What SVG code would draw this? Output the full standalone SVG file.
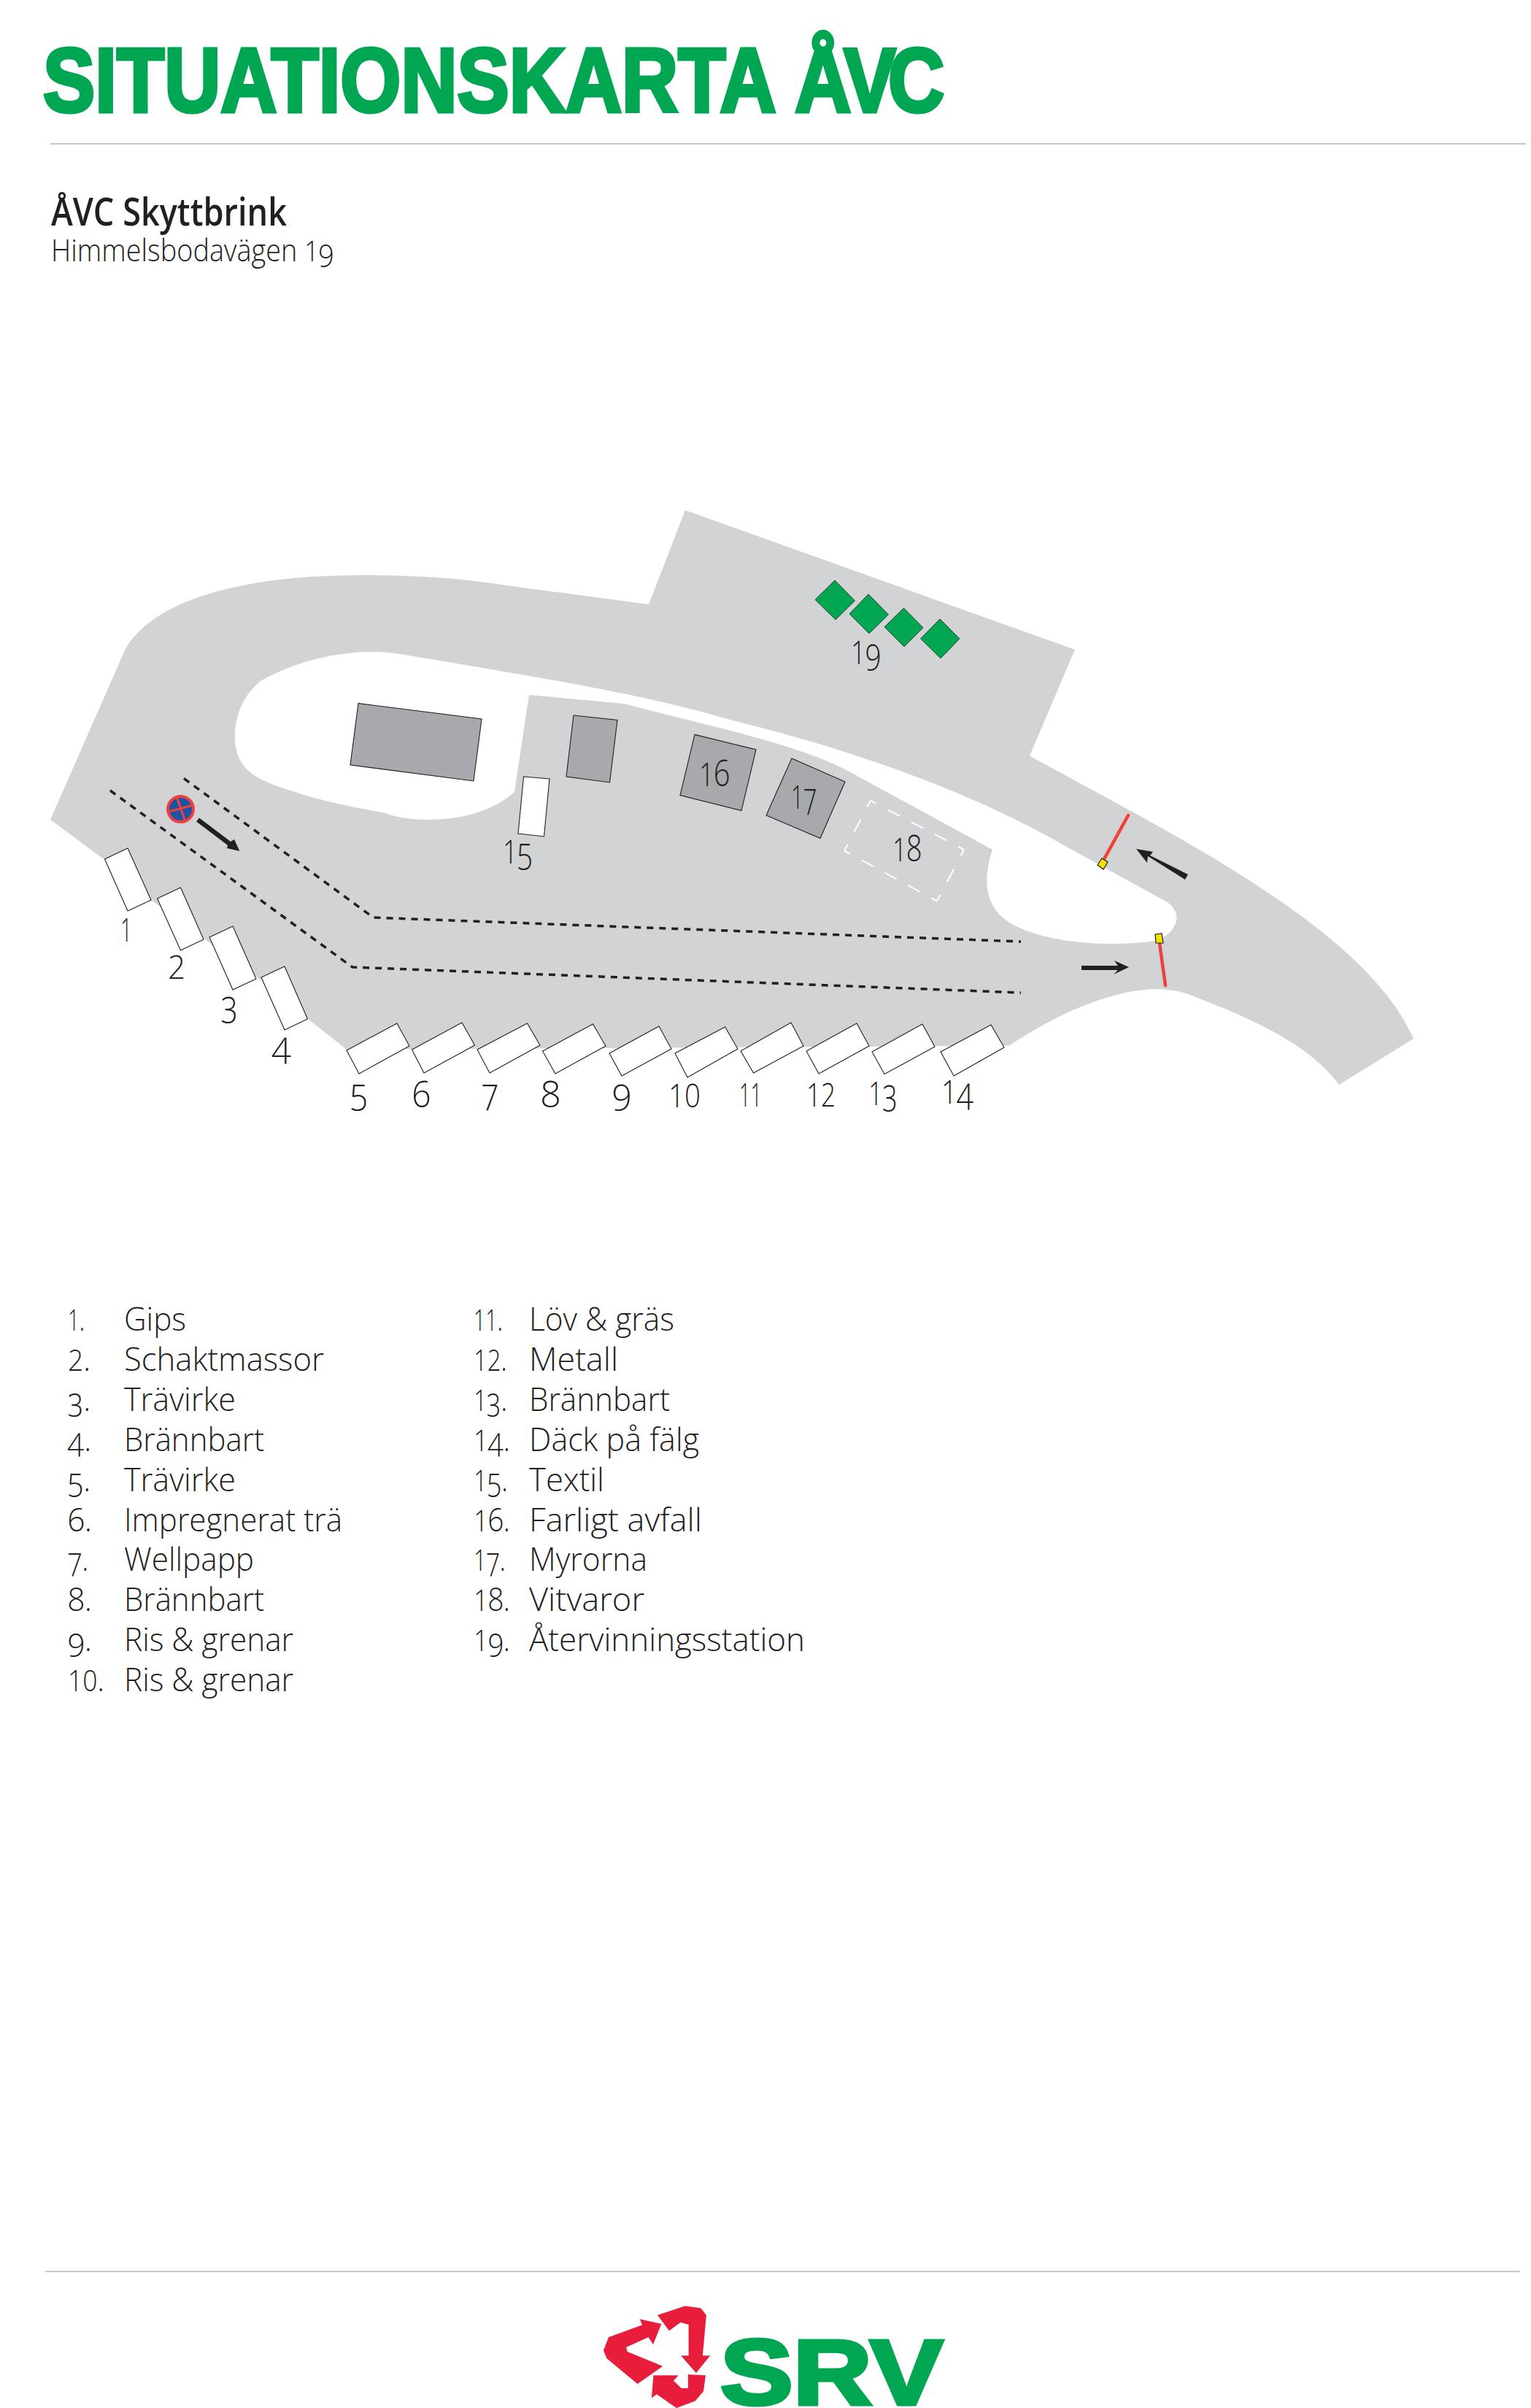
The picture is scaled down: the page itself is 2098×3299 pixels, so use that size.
<svg xmlns="http://www.w3.org/2000/svg" width="2098" height="3299" viewBox="0 0 2098 3299">
<style>
text{font-family:"Open Sans","Liberation Sans",sans-serif;fill:#231f20;font-weight:300;font-variant-numeric:oldstyle-nums;}
.l{font-variant-numeric:lining-nums;font-size:.9em;}
.title{font-family:"Liberation Sans",sans-serif;font-weight:700;font-size:125px;fill:#00a651;stroke:#00a651;stroke-width:5px;}
.tight{letter-spacing:-12px;}
.sub{font-weight:600;font-size:52px;}
.addr{font-size:42px;}
.li{font-size:45px;}
.n{font-size:50px;}
.rule{stroke:#c6c8ca;stroke-width:2.2;fill:none;}
.bin{fill:#fff;stroke:#231f20;stroke-width:1.1;}
.bld{fill:#a7a9ac;stroke:#231f20;stroke-width:1.1;}
.st{fill:#00a651;stroke:#231f20;stroke-width:.8;}
.dash{fill:none;stroke:#231f20;stroke-width:3.5;stroke-dasharray:9 8;}
.wd{stroke:#fff;stroke-width:2;stroke-dasharray:1 1;stroke-dashoffset:.5;}
.red{fill:none;stroke:#ef4136;stroke-width:4.5;stroke-linecap:round;}
.gate{fill:#f2e100;stroke:#231f20;stroke-width:1.2;}
.arrow{fill:#231f20;}
.logo{fill:#e81c3b;}
</style>
<rect width="2098" height="3299" fill="#fff"/>
<g id="header">
<text class="title" x="59" y="153" textLength="1225" lengthAdjust="spacingAndGlyphs">SITUATIONSKARTA <tspan class="tight">ÅVC</tspan></text>
<line class="rule" x1="69" y1="197" x2="2091" y2="197"/>
<text class="sub" x="70" y="309" textLength="323" lengthAdjust="spacingAndGlyphs">ÅVC Skyttbrink</text>
<text class="addr" x="70" y="358" textLength="387" lengthAdjust="spacingAndGlyphs">Himmelsbodavägen <tspan class="l">1</tspan>9</text>
</g>
<g id="site">
<path fill="#d1d3d4" fill-rule="evenodd" d="M939,699 L1473,890 L1411,1035.5 C1600,1140 1870,1270 1937,1423 L1835,1486 C1790,1425 1700,1390 1628,1362 C1600,1352 1570,1354 1542,1360 C1490,1372 1440,1395 1383,1432.6 L475,1438 L421,1395 L357,1342 L281,1287 L207,1233 L143.5,1178 L69,1123 L167,900 C190,840 290,788 497,788 C590,788 650,795 701,803 L889,828 Z M725,952 L855,964 C960,992 1100,1020 1169,1060 L1360,1164 C1345,1210 1350,1250 1395,1270 C1440,1292 1520,1298 1583,1289 C1612,1280 1625,1250 1596,1234 L1456,1157 C1340,1090 1180,1030 1000,986 C880,950 720,925 548,896 C500,888 425,895 357,933 C330,955 322,985 322,1009 C322,1050 345,1065 383,1078 C440,1098 480,1105 529,1114 C550,1125 650,1135 705,1085 Z"/>
</g>
<g id="drive-lines">
<polyline class="dash" points="252,1066.5 511.5,1257 1399,1290"/>
<polyline class="dash" points="151,1083 483,1325 1399,1360"/>
</g>
<g id="buildings">
<polygon class="bld" points="491,963.6 660,985 649,1070 480,1048"/>
<polygon class="bld" points="786,980 846,986.5 835.5,1072 776,1064"/>
</g>
<g id="no-parking">
<circle cx="247.5" cy="1108.6" r="17.5" fill="#1c54a4" stroke="#ef3e42" stroke-width="4"/>
<line x1="242" y1="1091" x2="254" y2="1126" stroke="#ef3e42" stroke-width="3"/>
<line x1="231" y1="1112" x2="265" y2="1103" stroke="#ef3e42" stroke-width="3"/>
</g>
<g id="arrows">
<path class="arrow" d="M273,1120.5 L316,1153 L321,1150 L328.4,1166 L311,1162 L312,1158 L269,1125.6 Z"/>
<path class="arrow" d="M1628,1198 L1624,1205 L1573,1173 L1572,1182 L1557,1163 L1580,1167 L1576,1172 Z"/>
<path class="arrow" d="M1482,1323 L1532,1323 L1527,1316 L1547,1325 L1526,1335 L1532,1329 L1482,1329 Z"/>
</g>
<g id="gate-1">
<line class="red" x1="1546" y1="1117" x2="1513" y2="1177"/>
<polygon class="gate" points="1510,1176 1518,1181 1512,1191 1504,1185"/>
</g>
<g id="gate-2">
<line class="red" x1="1589" y1="1292" x2="1597" y2="1350"/>
<polygon class="gate" points="1583,1280 1592,1279 1594,1292 1584,1292"/>
</g>
<g id="n1"><polygon class="bin" points="143.5,1177 175,1162 207,1233 175,1248"/><text class="n" x="165" y="1290" textLength="16" lengthAdjust="spacingAndGlyphs"><tspan class="l">1</tspan></text></g>
<g id="n2"><polygon class="bin" points="215.5,1231 247.5,1216 279,1287 247.5,1302"/><text class="n" x="230" y="1341" textLength="24" lengthAdjust="spacingAndGlyphs"><tspan class="l">2</tspan></text></g>
<g id="n3"><polygon class="bin" points="287,1284 319,1269 351,1341 319,1356"/><text class="n" x="303" y="1393" textLength="23" lengthAdjust="spacingAndGlyphs">3</text></g>
<g id="n4"><polygon class="bin" points="358,1339 390,1324 421.5,1396 390,1411"/><text class="n" x="373" y="1449" textLength="26" lengthAdjust="spacingAndGlyphs">4</text></g>
<g id="n5"><polygon class="bin" points="475,1439 544,1402 561,1433 492,1471"/><text class="n" x="480" y="1513" textLength="24" lengthAdjust="spacingAndGlyphs">5</text></g>
<g id="n6"><polygon class="bin" points="564.5,1438 633,1401 650.5,1432 581,1470"/><text class="n" x="565" y="1517" textLength="25" lengthAdjust="spacingAndGlyphs">6</text></g>
<g id="n7"><polygon class="bin" points="654,1438 722.5,1402 740,1432 671,1470"/><text class="n" x="660" y="1513" textLength="23" lengthAdjust="spacingAndGlyphs">7</text></g>
<g id="n8"><polygon class="bin" points="743.6,1440 812.5,1403 830,1433 761,1471"/><text class="n" x="741" y="1517" textLength="27" lengthAdjust="spacingAndGlyphs">8</text></g>
<g id="n9"><polygon class="bin" points="835,1443 903,1406 920,1437 852,1474"/><text class="n" x="839" y="1513" textLength="26" lengthAdjust="spacingAndGlyphs">9</text></g>
<g id="n10"><polygon class="bin" points="925,1443 993.6,1407 1011,1437 942,1476"/><text class="n" x="916" y="1517" textLength="44" lengthAdjust="spacingAndGlyphs"><tspan class="l">10</tspan></text></g>
<g id="n11"><polygon class="bin" points="1015,1440 1084,1401 1101,1433 1032.5,1470"/><text class="n" x="1013" y="1516" textLength="31" lengthAdjust="spacingAndGlyphs"><tspan class="l">11</tspan></text></g>
<g id="n12"><polygon class="bin" points="1105,1440 1174,1402 1191,1433 1122,1471"/><text class="n" x="1105" y="1516" textLength="40" lengthAdjust="spacingAndGlyphs"><tspan class="l">12</tspan></text></g>
<g id="n13"><polygon class="bin" points="1195,1441 1264,1403 1281,1434 1212,1471.5"/><text class="n" x="1190" y="1514" textLength="40" lengthAdjust="spacingAndGlyphs"><tspan class="l">1</tspan>3</text></g>
<g id="n14"><polygon class="bin" points="1289,1441 1358,1404 1376,1435 1307,1474"/><text class="n" x="1290" y="1512" textLength="44" lengthAdjust="spacingAndGlyphs"><tspan class="l">1</tspan>4</text></g>
<g id="n15"><polygon class="bin" points="717.5,1064 753,1067 745.5,1146 710,1142"/><text class="n" x="689" y="1183" textLength="41" lengthAdjust="spacingAndGlyphs"><tspan class="l">1</tspan>5</text></g>
<g id="n16"><polygon class="bld" points="952,1006.4 1036,1027 1016,1110.6 932,1089.5"/><text class="n" x="958" y="1077" textLength="42" lengthAdjust="spacingAndGlyphs"><tspan class="l">1</tspan>6</text></g>
<g id="n17"><polygon class="bld" points="1085,1039 1158,1071 1124,1148.5 1050,1117"/><text class="n" x="1084" y="1108" textLength="35" lengthAdjust="spacingAndGlyphs"><tspan class="l">1</tspan>7</text></g>
<g id="n18">
<line class="wd" pathLength="8" x1="1193" y1="1097" x2="1321" y2="1164"/>
<line class="wd" pathLength="4" x1="1321" y1="1164" x2="1284" y2="1234.5"/>
<line class="wd" pathLength="8" x1="1284" y1="1234.5" x2="1157" y2="1165.5"/>
<line class="wd" pathLength="4" x1="1157" y1="1165.5" x2="1193" y2="1097"/>
<text class="n" x="1223" y="1180" textLength="40" lengthAdjust="spacingAndGlyphs"><tspan class="l">1</tspan>8</text></g>
<g id="n19">
<polygon class="st" points="1144,795 1171.5,823 1145,849 1117,821.5"/>
<polygon class="st" points="1190,814 1217.5,842 1191,868 1164,841"/>
<polygon class="st" points="1238.5,833 1265,860 1239,886 1212,859"/>
<polygon class="st" points="1288,848 1315,875 1289,902 1261.5,875"/>
<text class="n" x="1166" y="910" textLength="41" lengthAdjust="spacingAndGlyphs"><tspan class="l">1</tspan>9</text></g>
<g id="legend">
<text class="li" x="93" y="1823" textLength="23" lengthAdjust="spacingAndGlyphs"><tspan class="l">1</tspan>.</text><text class="li" x="170" y="1823" textLength="85" lengthAdjust="spacingAndGlyphs">Gips</text>
<text class="li" x="93" y="1878" textLength="31" lengthAdjust="spacingAndGlyphs"><tspan class="l">2</tspan>.</text><text class="li" x="170" y="1878" textLength="274" lengthAdjust="spacingAndGlyphs">Schaktmassor</text>
<text class="li" x="93" y="1933" textLength="31" lengthAdjust="spacingAndGlyphs">3.</text><text class="li" x="170" y="1933" textLength="153" lengthAdjust="spacingAndGlyphs">Trävirke</text>
<text class="li" x="93" y="1988" textLength="32" lengthAdjust="spacingAndGlyphs">4.</text><text class="li" x="170" y="1988" textLength="192" lengthAdjust="spacingAndGlyphs">Brännbart</text>
<text class="li" x="93" y="2043" textLength="31" lengthAdjust="spacingAndGlyphs">5.</text><text class="li" x="170" y="2043" textLength="153" lengthAdjust="spacingAndGlyphs">Trävirke</text>
<text class="li" x="93" y="2098" textLength="33" lengthAdjust="spacingAndGlyphs">6.</text><text class="li" x="170" y="2098" textLength="299" lengthAdjust="spacingAndGlyphs">Impregnerat trä</text>
<text class="li" x="93" y="2152" textLength="28" lengthAdjust="spacingAndGlyphs">7.</text><text class="li" x="170" y="2152" textLength="178" lengthAdjust="spacingAndGlyphs">Wellpapp</text>
<text class="li" x="93" y="2207" textLength="33" lengthAdjust="spacingAndGlyphs">8.</text><text class="li" x="170" y="2207" textLength="192" lengthAdjust="spacingAndGlyphs">Brännbart</text>
<text class="li" x="93" y="2262" textLength="33" lengthAdjust="spacingAndGlyphs">9.</text><text class="li" x="170" y="2262" textLength="232" lengthAdjust="spacingAndGlyphs">Ris &amp; grenar</text>
<text class="li" x="93" y="2317" textLength="50" lengthAdjust="spacingAndGlyphs"><tspan class="l">10</tspan>.</text><text class="li" x="170" y="2317" textLength="232" lengthAdjust="spacingAndGlyphs">Ris &amp; grenar</text>
<text class="li" x="649" y="1823" textLength="40" lengthAdjust="spacingAndGlyphs"><tspan class="l">11</tspan>.</text><text class="li" x="725" y="1823" textLength="199" lengthAdjust="spacingAndGlyphs">Löv &amp; gräs</text>
<text class="li" x="649" y="1878" textLength="46" lengthAdjust="spacingAndGlyphs"><tspan class="l">12</tspan>.</text><text class="li" x="725" y="1878" textLength="122" lengthAdjust="spacingAndGlyphs">Metall</text>
<text class="li" x="649" y="1933" textLength="46" lengthAdjust="spacingAndGlyphs"><tspan class="l">1</tspan>3.</text><text class="li" x="725" y="1933" textLength="193" lengthAdjust="spacingAndGlyphs">Brännbart</text>
<text class="li" x="649" y="1988" textLength="50" lengthAdjust="spacingAndGlyphs"><tspan class="l">1</tspan>4.</text><text class="li" x="725" y="1988" textLength="233" lengthAdjust="spacingAndGlyphs">Däck på fälg</text>
<text class="li" x="649" y="2043" textLength="47" lengthAdjust="spacingAndGlyphs"><tspan class="l">1</tspan>5.</text><text class="li" x="725" y="2043" textLength="103" lengthAdjust="spacingAndGlyphs">Textil</text>
<text class="li" x="649" y="2098" textLength="50" lengthAdjust="spacingAndGlyphs"><tspan class="l">1</tspan>6.</text><text class="li" x="725" y="2098" textLength="237" lengthAdjust="spacingAndGlyphs">Farligt avfall</text>
<text class="li" x="649" y="2152" textLength="44" lengthAdjust="spacingAndGlyphs"><tspan class="l">1</tspan>7.</text><text class="li" x="725" y="2152" textLength="162" lengthAdjust="spacingAndGlyphs">Myrorna</text>
<text class="li" x="649" y="2207" textLength="50" lengthAdjust="spacingAndGlyphs"><tspan class="l">1</tspan>8.</text><text class="li" x="725" y="2207" textLength="158" lengthAdjust="spacingAndGlyphs">Vitvaror</text>
<text class="li" x="649" y="2262" textLength="50" lengthAdjust="spacingAndGlyphs"><tspan class="l">1</tspan>9.</text><text class="li" x="725" y="2262" textLength="378" lengthAdjust="spacingAndGlyphs">Återvinningsstation</text>
</g>
<g id="footer">
<line class="rule" x1="62" y1="3112" x2="2083" y2="3112"/>
<polygon class="logo" points="876.8,3177.3 906.4,3183.7 895,3212 888.6,3202 858.2,3215.7 859.6,3221.7 908.2,3241.7 873.6,3266 831.4,3231 827,3220 834,3202 880,3185.3"/>
<polygon class="logo" points="901,3171.7 938.6,3159.3 960,3162 967.9,3171.7 962.9,3227.3 973.2,3227.3 953.9,3251 933.2,3227.3 943.6,3227.3 943.6,3184.7 932.5,3181.7 917,3193.3"/>
<polygon class="logo" points="895.4,3254.3 929.6,3254.3 922.9,3261.7 933.9,3272 942.9,3271.7 942.9,3253 967,3254.3 964,3276 952.9,3289.3 927,3299 900,3280.3 892.9,3285.3"/>
<text x="987" y="3294" textLength="305" lengthAdjust="spacingAndGlyphs" style="font-family:'Liberation Sans',sans-serif;font-weight:700;font-size:126px;fill:#00a651;stroke:#00a651;stroke-width:5px;">SRV</text>
</g>
</svg>
